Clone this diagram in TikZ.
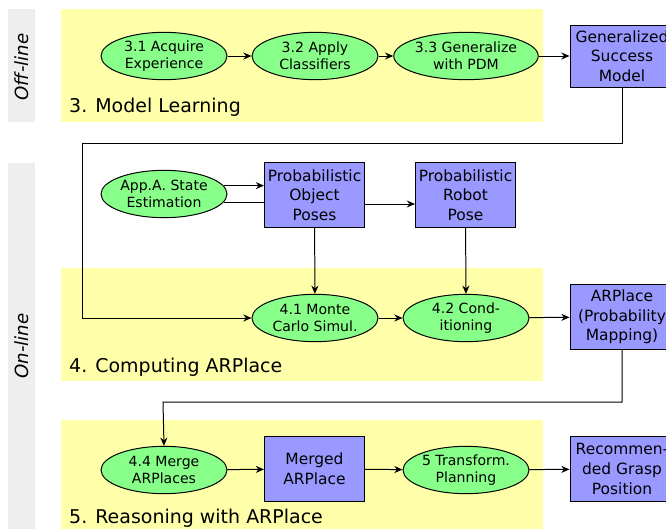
\documentclass[tikz,border=0pt]{standalone}
\usepackage{fontspec}
\setsansfont{DejaVu Sans}
\usepackage{tikz}
\usetikzlibrary{arrows.meta,positioning,shapes.geometric}

\definecolor{bandyellow}{HTML}{FFFFAA}
\definecolor{lanegray}{HTML}{EEEEEE}
\definecolor{ellgreen}{HTML}{88FF88}
\definecolor{boxblue}{HTML}{9999FF}

\begin{document}
\begin{tikzpicture}[x=0.03cm,y=-0.03cm,font=\sffamily,
  ell/.style={draw,ellipse,fill=ellgreen,line width=0.85pt,minimum width=3.78cm,minimum height=1.42cm,inner sep=0pt,align=center,font=\sffamily\fontsize{12}{14.6}\selectfont},
  box/.style={draw,rectangle,fill=boxblue,line width=0.85pt,minimum width=3cm,minimum height=1.96cm,inner sep=0pt,align=center,font=\sffamily\fontsize{13.2}{16.8}\selectfont},
  arr/.style={-{Stealth[length=7pt,width=6pt]},line width=0.85pt},
  band/.style={fill=bandyellow},
  lane/.style={fill=lanegray},
  title/.style={anchor=west,inner sep=0pt,font=\sffamily\fontsize{16.2}{19}\selectfont},
  lanetext/.style={rotate=90,inner sep=0pt,font=\sffamily\itshape\fontsize{15.5}{18}\selectfont}]
\useasboundingbox (0,0) rectangle (666,529);
% lanes and stages
\fill[lane] (8,9) rectangle (35,122);
\fill[lane] (8,163) rectangle (35,529);
\node[lanetext] (offl) at (22,67) {Off-line};
\node[lanetext] (onl) at (22,346) {On-line};
\fill[band] (61,9) rectangle (543,122);
\fill[band] (61,268) rectangle (543,381);
\fill[band] (61,420) rectangle (543,529);
\node[title] (t3) at (69,107) {3. Model Learning};
\node[title] (t4) at (69,367) {4. Computing ARPlace};
\node[title] (t5) at (69,518) {5. Reasoning with ARPlace};
% off-line
\node[ell] (acq) at (164,56) {3.1 Acquire\\Experience};
\node[ell] (cls) at (315,56) {3.2 Apply\\Classifiers};
\node[ell] (gen) at (466,56) {3.3 Generalize\\with PDM};
\node[box,minimum width=3.12cm,minimum height=1.86cm] (gsm) at (622,56) {Generalized\\Success\\Model};
% on-line
\node[ell] (ase) at (164,194) {App.A. State\\Estimation};
\node[box] (pop) at (314.5,195) {Probabilistic\\Object\\Poses};
\node[box] (prp) at (465.5,195) {Probabilistic\\Robot\\Pose};
\node[ell] (mcs) at (315,318) {4.1 Monte\\Carlo Simul.};
\node[ell] (cnd) at (466,318) {4.2 Cond-\\itioning};
\node[box,minimum width=3.12cm] (arp) at (622,317) {ARPlace\\(Probability\\Mapping)};
\node[ell] (mrg) at (164,470) {4.4 Merge\\ARPlaces};
\node[box] (mga) at (314.5,469) {Merged\\ARPlace};
\node[ell] (trf) at (466,470) {5 Transform.\\Planning};
\node[box,minimum width=3.12cm] (rgp) at (622,469) {Recommen-\\ded Grasp\\Position};
\coordinate (k1) at (82,143);
\coordinate (k2) at (163,402);
% connectors
\draw[arr] (acq)--(cls);
\draw[arr] (cls)--(gen);
\draw[arr] (gen)--(gsm);
\draw[arr] (gsm.south) |- (k1) |- (mcs.west);
\draw[arr] (ase.8)--(ase.8 -| pop.west);
\draw[line width=0.85pt] (ase.-8)--(ase.-8 -| pop.west);
\draw[arr] ([yshift=-0.27cm]pop.east)--([yshift=-0.27cm]prp.west);
\draw[arr] (pop)--(mcs);
\draw[arr] (prp)--(cnd);
\draw[arr] (mcs)--(cnd);
\draw[arr] (cnd)--(arp);
\draw[arr] (arp.south) |- (k2) -- (mrg.north);
\draw[arr] (mrg)--(mga);
\draw[arr] (mga)--(trf);
\draw[arr] (trf)--(rgp);
\end{tikzpicture}
\end{document}
